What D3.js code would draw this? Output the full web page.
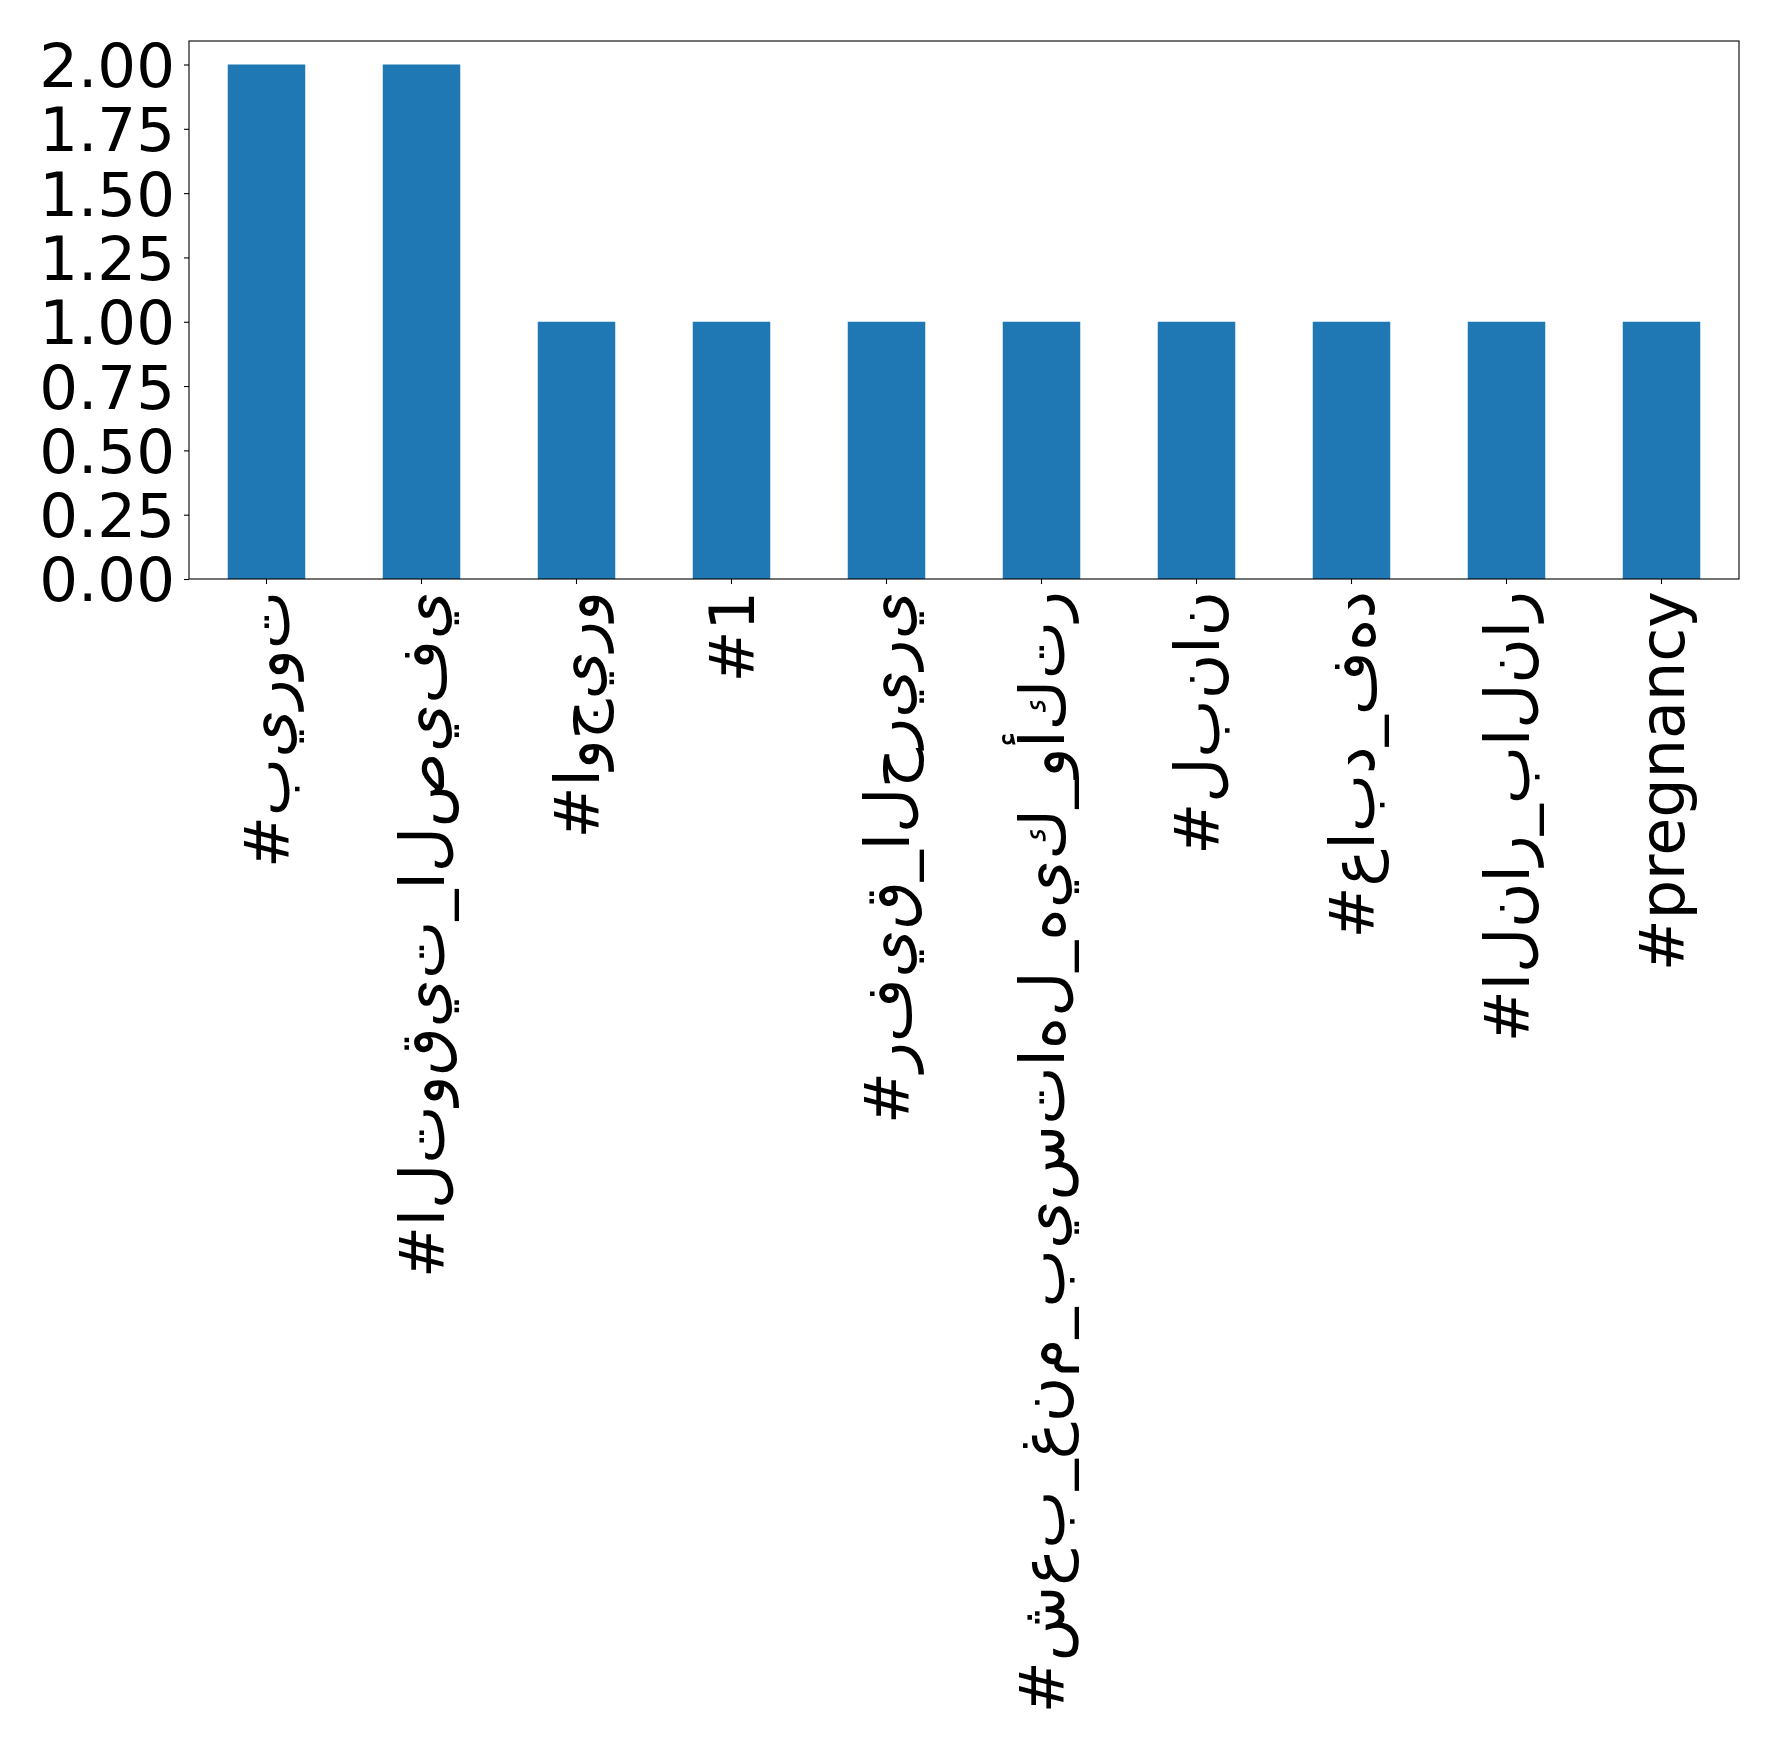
<!DOCTYPE html>
<html>
<head>
<meta charset="utf-8">
<script src="https://cdn.jsdelivr.net/npm/d3@7"></script>
<style>
  html, body { margin: 0; padding: 0; background: #ffffff; }
  svg { display: block; }
  .lbl {
    font-family: "DejaVu Sans", sans-serif;
    font-size: 61px;
    fill: #000;
  }
  .xlbl {
    font-size: 62px;
    direction: ltr;
    unicode-bidi: bidi-override;
    font-feature-settings: "init" 0, "medi" 0, "fina" 0, "rlig" 0, "calt" 0, "liga" 0;
  }
</style>
</head>
<body>
<script>
// Data
const categories = [
  "#بيروت",
  "#التوقيت_الصيفي",
  "#اوجيرو",
  "#1",
  "#رفيق_الحريري",
  "#شعب_غنم_بيستاهل_هيك_وأكتر",
  "#لبنان",
  "#عابد_فهد",
  "#النار_بالنار",
  "#pregnancy"
];
const counts = [2, 2, 1, 1, 1, 1, 1, 1, 1, 1];
const yTicks = [0, 0.25, 0.5, 0.75, 1.0, 1.25, 1.5, 1.75, 2.0];

const W = 1778, H = 1760;
const plot = { left: 189, right: 1739, top: 41, bottom: 579 };

const svg = d3.select("body").append("svg")
  .attr("width", W).attr("height", H);

const x = d3.scaleBand()
  .domain(d3.range(categories.length))
  .range([plot.left, plot.right])
  .paddingInner(0.5)
  .paddingOuter(0.25);

const y = d3.scaleLinear()
  .domain([0, 2])
  .range([plot.bottom, 64.5]);

// Bars
svg.append("g").selectAll("rect")
  .data(counts)
  .join("rect")
  .attr("x", (d, i) => x(i))
  .attr("width", x.bandwidth())
  .attr("y", d => y(d))
  .attr("height", d => y(0) - y(d))
  .attr("fill", "#1f77b4");

// Y axis
const yAxis = d3.axisLeft(y)
  .tickValues(yTicks)
  .tickFormat(d3.format(".2f"))
  .tickSize(5)
  .tickPadding(9);
const gy = svg.append("g")
  .attr("transform", `translate(${plot.left},0)`)
  .call(yAxis);
gy.select(".domain").remove();
gy.selectAll("line").attr("stroke", "#000").attr("stroke-width", 1.1);
gy.selectAll("text")
  .attr("class", "lbl")
  .attr("font-family", null).attr("font-size", null)
  .attr("dy", "0.36em");

// X axis
const xAxis = d3.axisBottom(x)
  .tickFormat(i => categories[i])
  .tickSize(5)
  .tickPadding(0);
const gx = svg.append("g")
  .attr("transform", `translate(0,${plot.bottom})`)
  .call(xAxis);
gx.select(".domain").remove();
gx.selectAll("line").attr("stroke", "#000").attr("stroke-width", 1.1);
gx.selectAll("text")
  .attr("class", "lbl xlbl")
  .attr("font-family", null).attr("font-size", null)
  .attr("transform", "translate(0,12) rotate(-90)")
  .attr("x", 0)
  .attr("y", 0)
  .attr("dy", "0.36em")
  .attr("text-anchor", "end");

// Frame
svg.append("rect")
  .attr("x", plot.left).attr("y", plot.top)
  .attr("width", plot.right - plot.left)
  .attr("height", plot.bottom - plot.top)
  .attr("fill", "none")
  .attr("stroke", "#000")
  .attr("stroke-width", 1.1);
</script>
</body>
</html>
